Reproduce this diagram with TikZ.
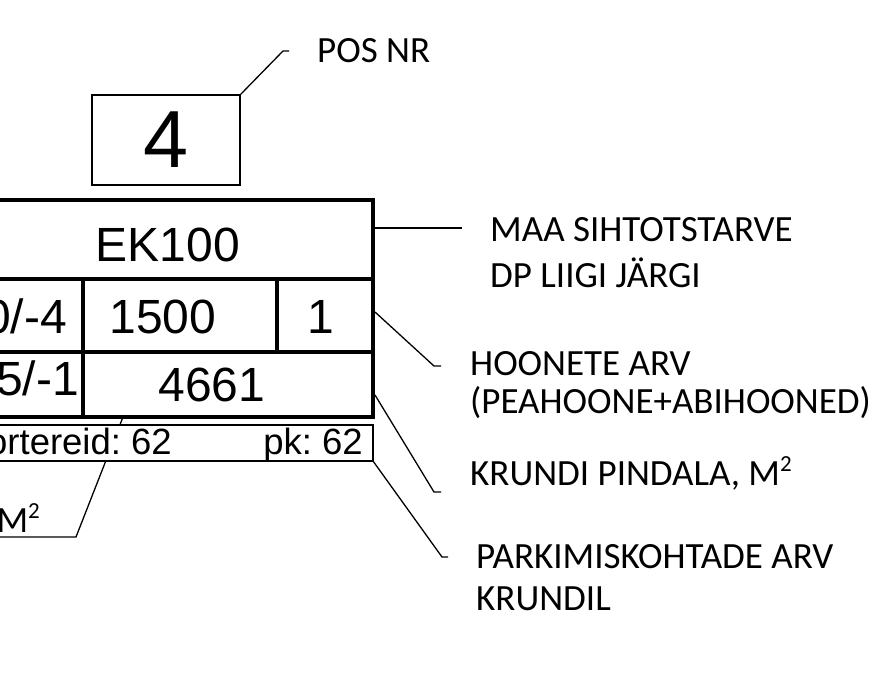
\documentclass[tikz,border=0pt]{standalone}
\usepackage{fontspec}
\newfontfamily\labelfont{Carlito}
\newfontfamily\tablefont{Liberation Sans}
\usetikzlibrary{positioning, calc}
\frenchspacing
\newcommand{\sqpow}{\raisebox{0.36em}{\fontsize{23}{23}\selectfont 2}}
\tikzset{
  frameline/.style = {line width=4.3pt},
  gridline/.style  = {line width=3.3pt},
  thinline/.style  = {line width=1.1pt},
  leader/.style    = {line width=1.3pt},
  posbox/.style    = {draw, line width=1.6pt, inner sep=0pt,
                      minimum width=148pt, minimum height=90pt,
                      font=\tablefont\fontsize{81}{81}\selectfont},
  celltext/.style  = {inner sep=0pt, anchor=base,
                      font=\tablefont\fontsize{48}{48}\selectfont},
  smalltext/.style = {inner sep=0pt, anchor=base east,
                      font=\tablefont\fontsize{36.5}{36.5}\selectfont},
  legend/.style    = {inner sep=0pt, anchor=base west, align=left,
                      font=\labelfont\fontsize{37}{38}\selectfont},
}

\begin{document}
\begin{tikzpicture}[x=1pt, y=-1pt]
    \useasboundingbox (0,0) rectangle (873,690);
    \clip (0,0) rectangle (873,690);

    % position number
    \node[posbox] (pos) at (166,140) {4};
    \node[legend] (posnr) at (317,63) {POS NR};
    \coordinate (pos-knee) at (283,51);
    \coordinate (pos-tick) at (289,51);
    \draw[leader] (pos.north east) -- (pos-knee) -- (pos-tick);

    % table
    \coordinate (tab-nw) at (-37,200);
    \coordinate (tab-se) at (373,417);
    \draw[frameline] (tab-nw) rectangle (tab-se);
    \draw[gridline] (-37,279) -- (373,279);
    \draw[gridline] (-37,352) -- (373,352);
    \draw[gridline] (83,279) -- (83,417);
    \draw[gridline] (277,279) -- (277,352);

    \node[celltext] (use) at (168,261) {EK100};
    \node[celltext, anchor=base east] (floors) at (67,333) {0/-4};
    \node[celltext] (gross) at (163,333) {1500};
    \node[celltext] (bldgs) at (321,333) {1};
    \node[celltext, anchor=base east] (height) at (79,395) {5/-1};
    \node[celltext] (plot) at (212,401) {4661};

    % leader to the left label (runs under the small box)
    \node[legend, anchor=base east] (flatarea) at (40,532) {M\sqpow};
    \coordinate (flat-start) at (123,417);
    \coordinate (flat-knee) at (76,537);
    \coordinate (flat-end) at (-10,537);
    \draw[leader] (flat-start) -- (flat-knee) -- (flat-end);

    % small box under the table
    \draw[thinline, fill=white] (-37,425) rectangle (373,461);
    \node[smalltext] (flats) at (172,454) {ortereid: 62};
    \node[smalltext] (parking) at (363,454) {pk: 62};

    % labels on the right (base = last line)
    \node[legend] (maa) at (490,287) {MAA SIHTOTSTARVE\\[8pt]DP LIIGI JÄRGI};
    \node[legend] (hoon) at (470,413) {HOONETE ARV\\(PEAHOONE+ABIHOONED)};
    \node[legend] (krunt) at (470,485) {KRUNDI PINDALA, M\sqpow};
    \node[legend] (park) at (476,610) {PARKIMISKOHTADE ARV\\[4pt]KRUNDIL};

    \coordinate (maa-start) at (375,228);
    \coordinate (maa-end) at (462,228);
    \coordinate (hoon-start) at (375,312);
    \coordinate (hoon-knee) at (434,366);
    \coordinate (hoon-tick) at (441,366);
    \coordinate (krunt-start) at (375,395);
    \coordinate (krunt-knee) at (434,492);
    \coordinate (krunt-tick) at (441,492);
    \coordinate (park-start) at (373,461);
    \coordinate (park-knee) at (442,557);
    \coordinate (park-tick) at (448,557);

    \draw[leader] (maa-start) -- (maa-end);
    \draw[leader] (hoon-start) -- (hoon-knee) -- (hoon-tick);
    \draw[leader] (krunt-start) -- (krunt-knee) -- (krunt-tick);
    \draw[leader] (park-start) -- (park-knee) -- (park-tick);
\end{tikzpicture}
\end{document}
